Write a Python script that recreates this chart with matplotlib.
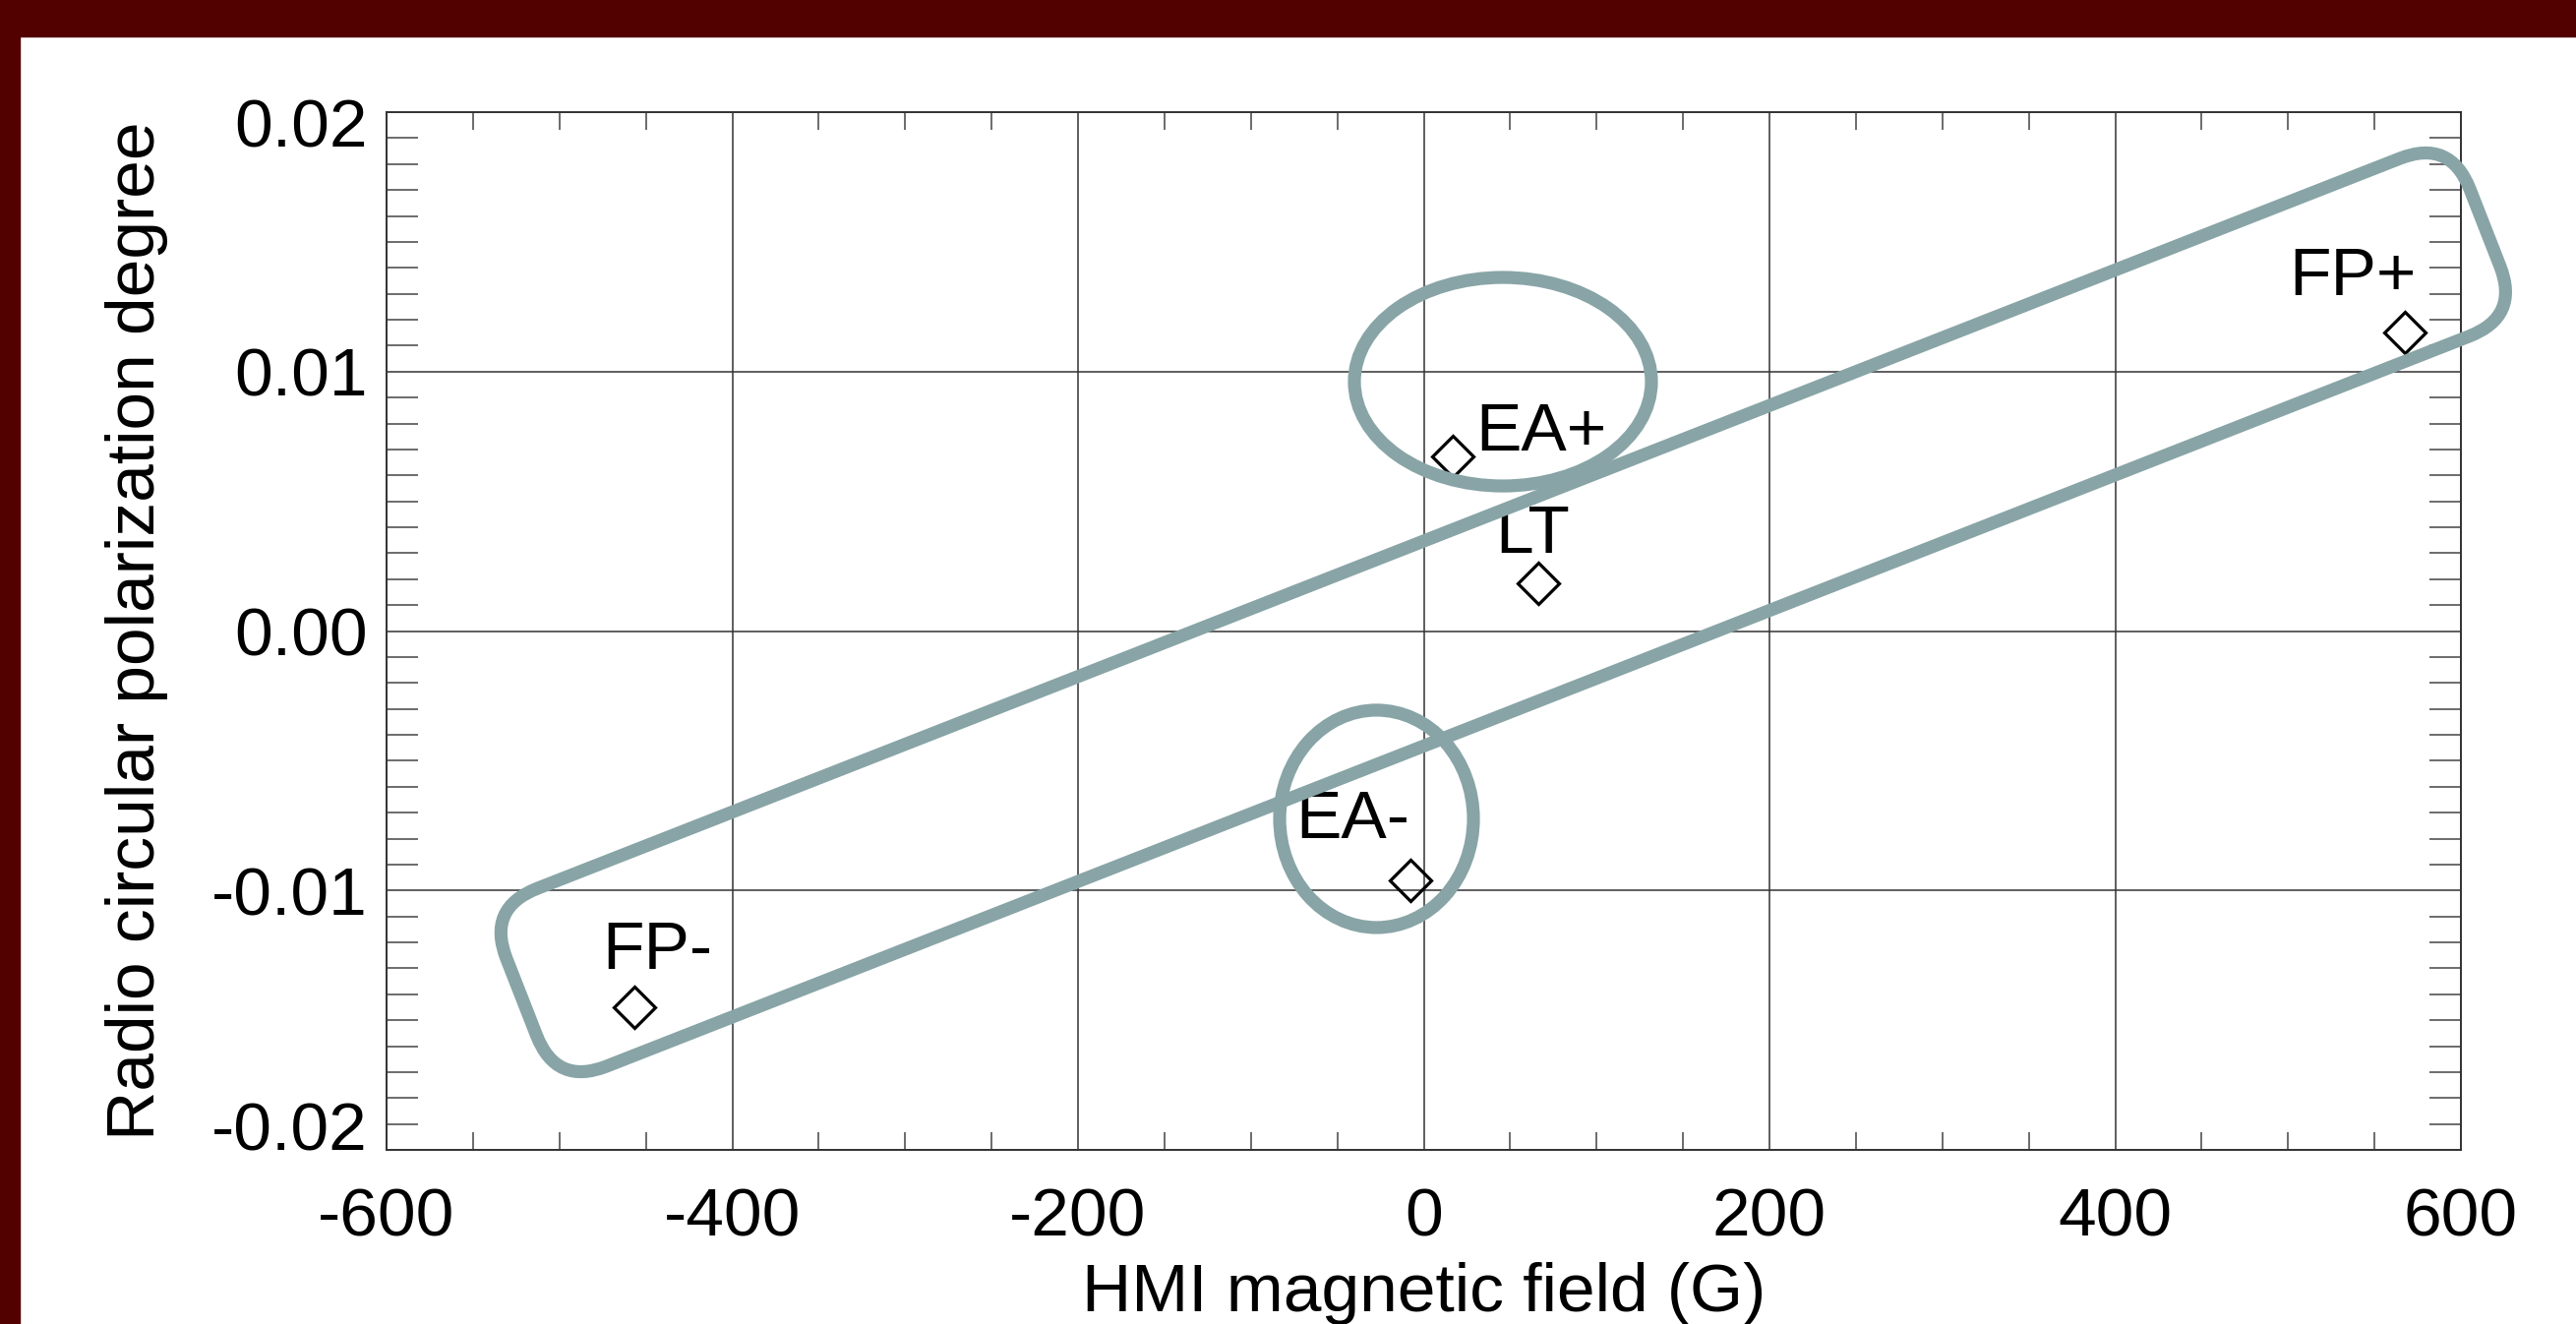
"""
Radio circular polarization vs HMI magnetic field
"""
import matplotlib.pyplot as plt
from matplotlib.patches import Ellipse, FancyBboxPatch, Rectangle
from matplotlib.transforms import Affine2D, ScaledTranslation
from matplotlib.ticker import MultipleLocator, FormatStrFormatter

plt.rcParams['font.family'] = ['Liberation Sans', 'DejaVu Sans']
plt.rcParams['axes.unicode_minus'] = False

labels = ['FP-', 'EA-', 'LT', 'EA+', 'FP+']
field = [-456.6, -7.7, 66.3, 16.8, 567.6]
polar = [-0.0145, -0.00961, 0.00184, 0.00673, 0.01151]

xticks = [-600, -400, -200, 0, 200, 400, 600]
yticks = [-0.02, -0.01, 0.0, 0.01, 0.02]

# label offsets in points from each diamond
offsets = [(17, 28), (-42, 31), (-4, 22), (65, 4), (-38, 27)]

ring = '#88a4a6'
maroon = '#530000'
fs = 50

fig = plt.figure(figsize=(26.19, 13.46), dpi=100)
fig.patches.append(Rectangle((0, 1 - 37 / 1346), 1, 37 / 1346, transform=fig.transFigure,
                             color=maroon, zorder=-5))
fig.patches.append(Rectangle((0, 0), 20 / 2619, 1, transform=fig.transFigure,
                             color=maroon, zorder=-5))

ax = fig.add_axes([393 / 2619, 177 / 1346, 2109 / 2619, 1055 / 1346])
ax.set_xlim(-600, 600)
ax.set_ylim(-0.02, 0.02)

ax.set_xticks(xticks)
ax.set_yticks(yticks)
ax.xaxis.set_minor_locator(MultipleLocator(50))
ax.yaxis.set_minor_locator(MultipleLocator(0.001))
ax.yaxis.set_major_formatter(FormatStrFormatter('%.2f'))
ax.grid(True, which='major', color='#333333', linewidth=1.1)

ax.tick_params(which='both', direction='in', top=True, right=True, labelsize=fs, color='#444444')
ax.tick_params(which='major', length=0)
ax.tick_params(axis='x', which='major', pad=27)
ax.tick_params(axis='y', which='major', pad=14)
ax.tick_params(axis='x', which='minor', length=13, width=1.1)
ax.tick_params(axis='y', which='minor', length=23, width=1.1)
for sp in ax.spines.values():
    sp.set_color('#333333')
    sp.set_linewidth(1.4)

# end labels of the y axis sit inside the axis range
ymaj = ax.yaxis.get_major_ticks()
ymaj[0].label1.set_verticalalignment('baseline')
top_lab = ymaj[-1].label1
top_lab.set_verticalalignment('baseline')
top_lab.set_transform(top_lab.get_transform() + ScaledTranslation(0, -0.36, fig.dpi_scale_trans))

ax.plot(field, polar, linestyle='none', marker='D', ms=21, mfc='none', mec='black', mew=2.3, zorder=4)
for name, x, y, (dx, dy) in zip(labels, field, polar, offsets):
    ax.annotate(name, (x, y), xytext=(dx, dy), textcoords='offset points',
                ha='center', va='baseline', fontsize=fs, zorder=5)

ax.text(0.5, -0.1555, 'HMI magnetic field (G)', transform=ax.transAxes,
        ha='center', va='baseline', fontsize=fs)
ax.text(-0.1204, 0.5, 'Radio circular polarization degree', transform=ax.transAxes,
        ha='center', va='center', rotation=90, fontsize=fs)

# hand-drawn style highlights (sizes in pixels, centred on data positions)
band = FancyBboxPatch((-1072, -97), 2144, 194, boxstyle='round,pad=0,rounding_size=55',
                      transform=Affine2D().rotate_deg(21.4) + ScaledTranslation(46.0, 0.00072, ax.transData),
                      fill=False, edgecolor=ring, linewidth=9.5, clip_on=False, zorder=6)
ax.add_artist(band)
ea_plus = Ellipse((0, 0), 302, 212, transform=ScaledTranslation(45.8, 0.00961, ax.transData),
                  fill=False, edgecolor=ring, linewidth=9.5, clip_on=False, zorder=6)
ax.add_artist(ea_plus)
ea_minus = Ellipse((0, 0), 197, 221, transform=ScaledTranslation(-27.3, -0.00724, ax.transData),
                   fill=False, edgecolor=ring, linewidth=9.5, clip_on=False, zorder=6)
ax.add_artist(ea_minus)

plt.savefig('out.png', dpi=100)
